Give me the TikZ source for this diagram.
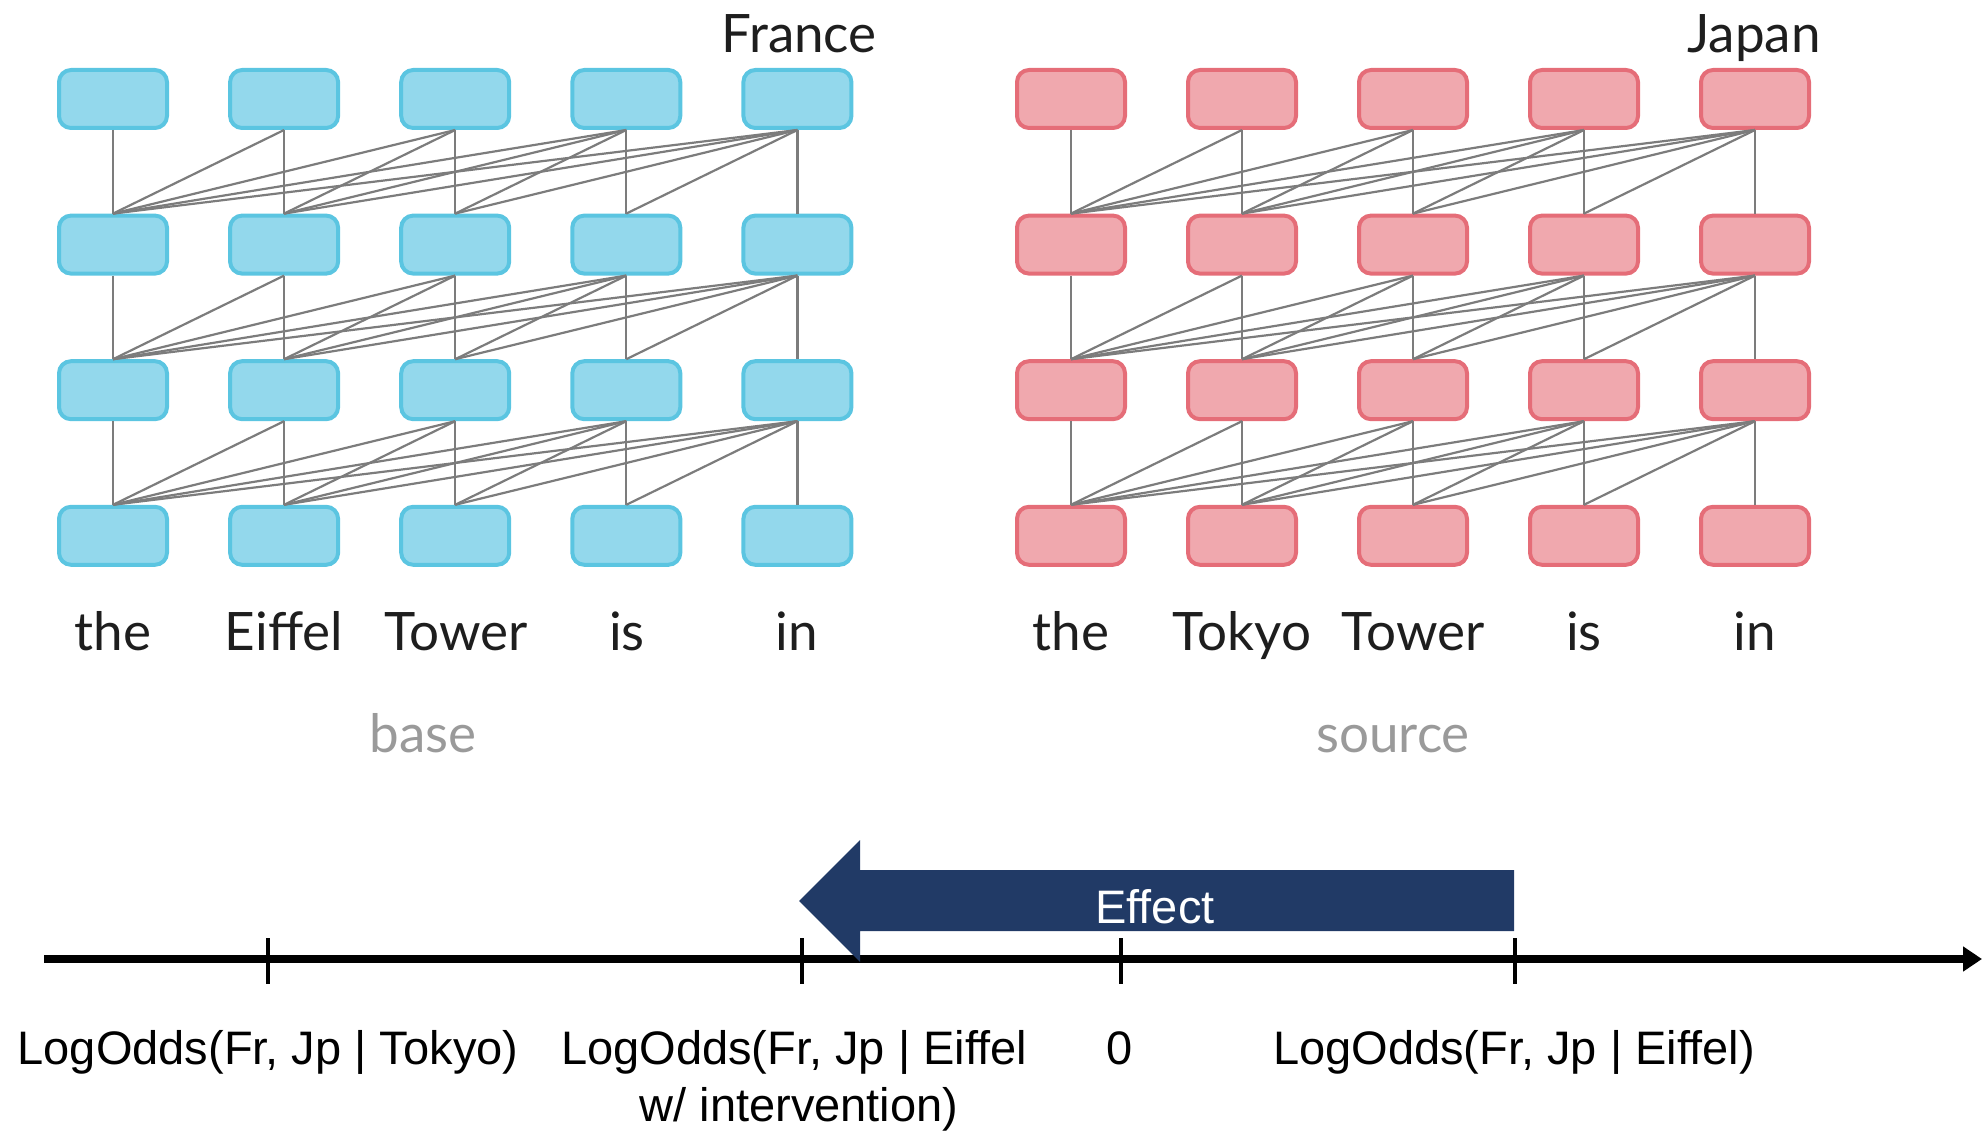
\documentclass[tikz,border=0pt]{standalone}
\usepackage{fontspec}
\setmainfont{Liberation Sans}
\newfontfamily\wordfont{Lato}
\usetikzlibrary{arrows.meta}

\definecolor{bluefill}{HTML}{93D8EC}
\definecolor{blueedge}{HTML}{5BC5E1}
\definecolor{redfill}{HTML}{F0A8AE}
\definecolor{rededge}{HTML}{E56D78}
\definecolor{linkgray}{HTML}{7C7C7C}
\definecolor{effectnavy}{HTML}{213A66}
\definecolor{captiongray}{HTML}{9A9A9A}
\definecolor{wordink}{HTML}{1E1E1E}

\begin{document}
\begin{tikzpicture}[x=1pt,y=-1pt,
  cell/.style={rounded corners=12pt, minimum width=108pt, minimum height=58pt,
               line width=4pt, inner sep=0pt},
  bluecell/.style={cell, draw=blueedge, fill=bluefill},
  redcell/.style={cell, draw=rededge, fill=redfill},
  link/.style={draw=linkgray, line width=2.2pt},
  word/.style={font=\wordfont\fontsize{53}{60}\selectfont, text=wordink,
               anchor=base, inner sep=0pt},
  caption/.style={word, text=captiongray},
  axlabel/.style={font=\fontsize{47}{57}\selectfont, anchor=base, inner sep=0pt},
  axisline/.style={line width=7.5pt, -{Triangle[length=19pt,width=24pt]}},
  tickmark/.style={line width=4pt},
]
\useasboundingbox (0,0) rectangle (1982,1131);

% ---- two stacks of transformer cells: base (blue) and source (red)
\foreach \r in {0,...,3} {
  \foreach \c in {0,...,4} {
    \node[bluecell] (b\r\c) at ({113+171.1*\c},{99+145.6*\r}) {};
    \node[redcell]  (s\r\c) at ({1071+171*\c},{99+145.6*\r}) {};
  }
}

% ---- causal attention links: cell j of one layer to cells 0..j of the next
\foreach \r/\n in {0/1,1/2,2/3} {
  \foreach \j in {0,...,4} {
    \foreach \i in {0,...,\j} {
      \draw[link] (b\r\j.south) -- (b\n\i.north);
      \draw[link] (s\r\j.south) -- (s\n\i.north);
    }
  }
}

% ---- predicted tokens
\node[word] (outb) at (799,53) {France};
\node[word] (outs) at (1754,53) {Japan};

% ---- input tokens
\node[word] (wb0) at (113,650) {the};
\node[word] (wb1) at (284,650) {Eiffel};
\node[word] (wb2) at (456,650) {Tower};
\node[word] (wb3) at (627,650) {is};
\node[word] (wb4) at (797,650) {in};
\node[word] (ws0) at (1071,650) {the};
\node[word] (ws1) at (1242,650) {Tokyo};
\node[word] (ws2) at (1413,650) {Tower};
\node[word] (ws3) at (1584,650) {is};
\node[word] (ws4) at (1755,650) {in};

\node[caption] (capb) at (423,752) {base};
\node[caption] (caps) at (1393,752) {source};

% ---- log-odds axis
\coordinate (axstart) at (44,959);
\coordinate (axend) at (1982,959);
\draw[axisline] (axstart) -- (axend);

\foreach \x/\nm in {268/ta, 802/tb, 1121/tc, 1515/td} {
  \coordinate (\nm) at (\x,959);
  \draw[tickmark] (\x,938) -- (\x,984);
}

% ---- effect arrow
\fill[effectnavy] (1514,870) -- (860,870) -- (860,840) -- (799,901)
  -- (860,962) -- (860,931) -- (1514,931) -- cycle;
\node[axlabel, text=white] (eff) at (1155,923) {Effect};

% ---- axis labels
\node[axlabel] (la) at (268,1064) {LogOdds(Fr, Jp | Tokyo)};
\node[axlabel] (lb) at (794,1064) {LogOdds(Fr, Jp | Eiffel};
\node[axlabel] (lb2) at (799,1121) {w/ intervention)};
\node[axlabel] (lc) at (1120,1064) {0};
\node[axlabel] (ld) at (1514,1064) {LogOdds(Fr, Jp | Eiffel)};
\end{tikzpicture}
\end{document}
